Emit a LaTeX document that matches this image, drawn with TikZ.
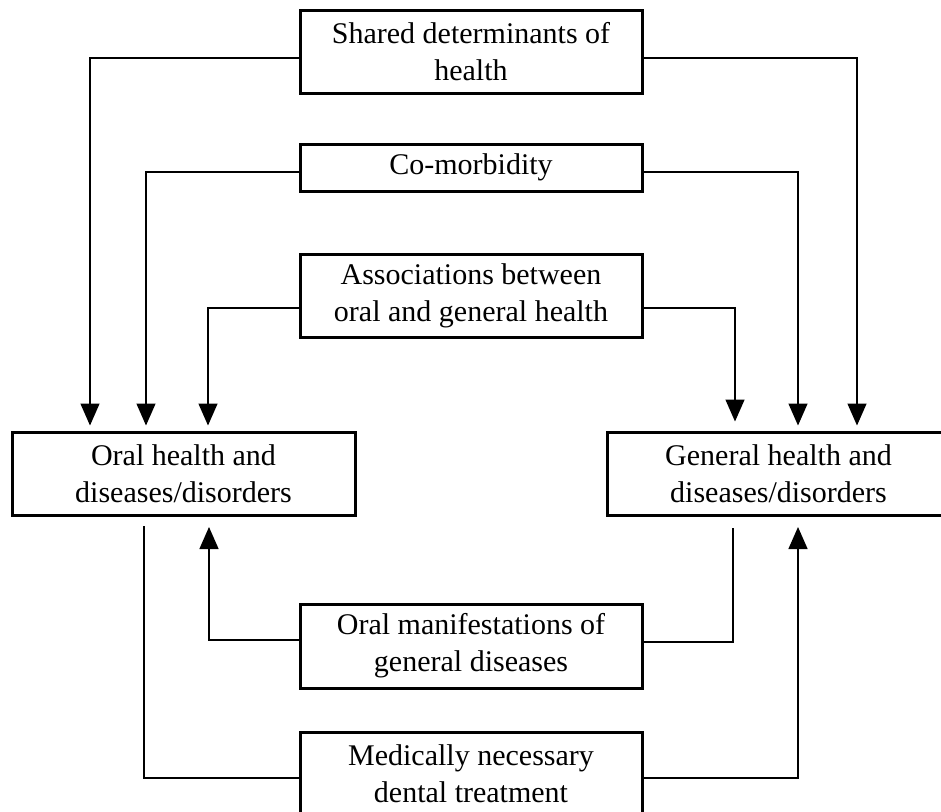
\documentclass[tikz,border=0pt]{standalone}
\usepackage{fontspec}
\setmainfont{Liberation Serif}
\usetikzlibrary{arrows.meta}
\begin{document}
\begin{tikzpicture}[x=1pt,y=-1pt,
  box/.style={draw,line width=3pt,align=center,inner sep=0pt,minimum width=342pt,
    font=\fontsize{30}{37}\selectfont},
  conn/.style={line width=1.4pt},
  arr/.style={conn,-{Triangle[width=19pt,length=22pt]},shorten >=5pt}]
\useasboundingbox (0,0) rectangle (941,811);
\clip (0,0) rectangle (941,811);
\node[box,minimum height=83pt] (shared) at (471,51.5) {Shared determinants of\\health};
\node[box,minimum height=47pt] (como) at (471,167.5) {Co-morbidity};
\node[box,minimum height=83pt] (assoc) at (471,295.5) {Associations between\\oral and general health};
\node[box,minimum height=83pt,minimum width=343pt] (oral) at (183.5,473.5) {Oral health and\\diseases/disorders};
\node[box,minimum height=83pt,minimum width=343pt] (general) at (778.5,473.5) {General health and\\diseases/disorders};
\node[box,minimum height=84pt] (manif) at (471,646) {Oral manifestations of\\general diseases};
\node[box,minimum height=83pt] (medical) at (471,773.5) {Medically necessary\\dental treatment};
% top connectors
\coordinate (s1) at (90,58);
\coordinate (s2) at (857,58);
\coordinate (c1) at (146,172);
\coordinate (c2) at (798,172);
\coordinate (a1) at (208,308);
\coordinate (a2) at (735,308);
\draw[arr] (shared.west |- s1) -| (s1 |- oral.north);
\draw[arr] (shared.east |- s2) -| (s2 |- general.north);
\draw[arr] (como.west |- c1) -| (c1 |- oral.north);
\draw[arr] (como.east |- c2) -| (c2 |- general.north);
\draw[arr] (assoc.west |- a1) -| (a1 |- oral.north);
\draw[arr,shorten >=9pt] (assoc.east |- a2) -| (a2 |- general.north);
% bottom connectors
\coordinate (b1top) at (144,526);
\coordinate (b1) at (144,778);
\draw[conn] (b1top) |- (medical.west |- b1);
\coordinate (m1) at (209,640);
\coordinate (m1t) at (209,516);
\draw[arr,shorten >=11pt] (manif.west |- m1) -| (m1t);
\coordinate (m2) at (733,642);
\coordinate (m2t) at (733,528);
\draw[conn] (manif.east |- m2) -| (m2t);
\coordinate (d2) at (798,778);
\coordinate (d2t) at (798,516);
\draw[arr,shorten >=11pt] (medical.east |- d2) -| (d2t);
\end{tikzpicture}
\end{document}
